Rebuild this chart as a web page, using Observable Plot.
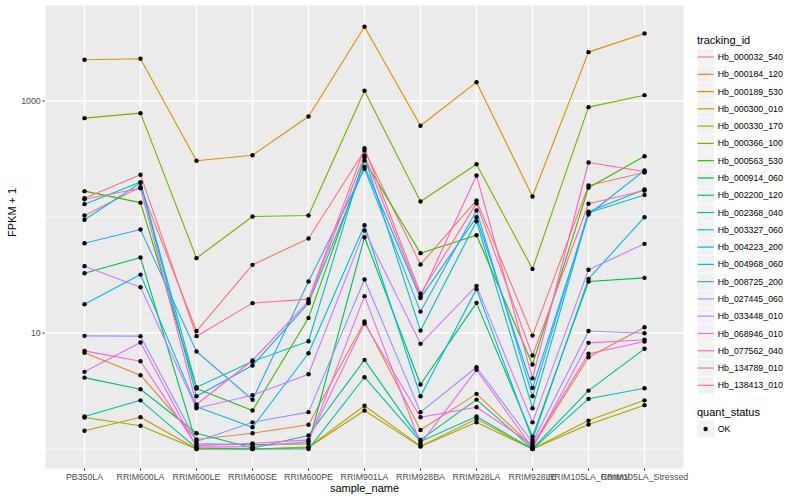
<!DOCTYPE html>
<html><head><meta charset="utf-8">
<script src="https://cdn.jsdelivr.net/npm/d3@7"></script>
<script src="https://cdn.jsdelivr.net/npm/@observablehq/plot@0.6"></script>
<style>
body{margin:0;background:#fff;font-family:"Liberation Sans",Arial,Helvetica,sans-serif;}
#wrap{position:relative;width:800px;height:500px;overflow:hidden;}
#chart{position:absolute;left:0;top:0;}
#legend{position:absolute;left:690px;top:0;}
</style></head><body><div id="wrap"><div id="chart"></div><div id="legend"></div></div>
<script>
const samples = ["PB350LA","RRIM600LA","RRIM600LE","RRIM600SE","RRIM600PE","RRIM901LA","RRIM928BA","RRIM928LA","RRIM928LE","RRIM105LA_Control","RRIM105LA_Stressed"];
const trackingIds = ["Hb_000032_540","Hb_000184_120","Hb_000189_530","Hb_000300_010","Hb_000330_170","Hb_000366_100","Hb_000563_530","Hb_000914_060","Hb_002200_120","Hb_002368_040","Hb_003327_060","Hb_004223_200","Hb_004968_060","Hb_008725_200","Hb_027445_060","Hb_033448_010","Hb_068946_010","Hb_077562_040","Hb_134789_010","Hb_138413_010"];
const colors = ["#F8766D","#EA8331","#D89000","#C09B00","#A3A500","#7CAE00","#39B600","#00BB4E","#00BF7D","#00C1A3","#00BFC4","#00BAE0","#00B0F6","#35A2FF","#9590FF","#C77CFF","#E76BF3","#FA62DB","#FF62BC","#FF6C91"];
const yTicks = [10, 1000];
const yMinor = [1, 100];

// FPKM + 1 values per tracking_id, in sample order
const hb_000032_540 = [103, 181, 10.4, 38.7, 65.3, 374, 39.0, 139, 9.5, 187, 242];
const hb_000184_120 = [6.75, 4.33, 1.21, 1.37, 1.62, 12.6, 1.46, 2.99, 1.05, 6.18, 11.2];
const hb_000189_530 = [2265, 2312, 305, 341, 735, 4362, 611, 1452, 150, 2636, 3818];
const hb_000300_010 = [1.44, 1.88, 1.0, 1.0, 1.04, 2.36, 1.06, 1.82, 1.0, 1.76, 2.63];
const hb_000330_170 = [1.87, 1.59, 1.0, 1.0, 1.03, 2.15, 1.05, 1.70, 1.0, 1.63, 2.39];
const hb_000366_100 = [711, 785, 44.2, 101, 103, 1225, 136, 285, 35.7, 885, 1122];
const hb_000563_530 = [167, 133, 3.32, 2.15, 13.5, 307, 48.7, 69.7, 5.35, 179, 334];
const hb_000914_060 = [32.8, 44.8, 1.11, 1.09, 1.11, 67, 3.60, 18.2, 1.28, 27.8, 29.9];
const hb_002200_120 = [4.13, 3.28, 1.37, 1.02, 1.31, 5.87, 1.20, 2.67, 1.01, 3.19, 7.31];
const hb_002368_040 = [1.91, 2.63, 1.02, 1.0, 1.0, 4.16, 1.16, 1.91, 1.0, 2.71, 3.34];
const hb_003327_060 = [129, 200, 3.41, 5.68, 8.5, 328, 10.5, 92, 2.25, 109, 155];
const hb_004223_200 = [17.7, 31.9, 2.32, 1.54, 6.7, 85, 2.85, 23.9, 1.20, 29.3, 99.6];
const hb_004968_060 = [94.6, 197, 2.85, 5.25, 18.1, 272, 20.0, 99.6, 3.37, 105, 252];
const hb_008725_200 = [59.4, 78.0, 6.93, 2.66, 27.8, 260, 15.3, 114, 2.85, 111, 173];
const hb_027445_060 = [9.46, 9.4, 1.16, 1.70, 2.08, 28.9, 2.08, 5.07, 1.14, 10.4, 9.96];
const hb_033448_010 = [37.7, 24.8, 2.25, 2.91, 4.41, 76.5, 8.07, 25.5, 1.70, 35.1, 58.7];
const hb_068946_010 = [4.63, 8.28, 1.04, 1.05, 1.16, 20.8, 1.11, 4.82, 1.02, 8.23, 8.74];
const hb_077562_040 = [7.02, 5.71, 1.07, 1.12, 1.20, 12.1, 1.88, 2.29, 1.09, 6.62, 8.45];
const hb_134789_010 = [142, 177, 2.42, 5.8, 18.8, 339, 20.6, 228, 4.07, 295, 247];
const hb_138413_010 = [145, 231, 9.4, 18.1, 19.6, 392, 21.8, 131, 6.4, 130, 169];

const seriesValues = [hb_000032_540, hb_000184_120, hb_000189_530, hb_000300_010, hb_000330_170, hb_000366_100, hb_000563_530, hb_000914_060, hb_002200_120, hb_002368_040, hb_003327_060, hb_004223_200, hb_004968_060, hb_008725_200, hb_027445_060, hb_033448_010, hb_068946_010, hb_077562_040, hb_134789_010, hb_138413_010];

const data = [];
trackingIds.forEach((id, i) => {
  seriesValues[i].forEach((v, j) => data.push({id, sample: samples[j], value: v, quant_status: "OK"}));
});

const font = "'Liberation Sans', Arial, Helvetica, sans-serif";
const W = 690, H = 500, ML = 45, MR = 7, MT = 5, MB = 32;

const chart = Plot.plot({
  width: W, height: H,
  marginLeft: ML, marginRight: MR, marginTop: MT, marginBottom: MB,
  style: {fontFamily: font, background: "white", overflow: "visible"},
  x: {type: "point", domain: samples, padding: 0.6, axis: null},
  y: {type: "log", domain: [0.68, 6650], axis: null},
  color: {domain: trackingIds, range: colors},
  marks: [
    Plot.frame({fill: "#EBEBEB", stroke: null}),
    Plot.gridY(yMinor, {stroke: "white", strokeOpacity: 1, strokeWidth: 0.7}),
    Plot.gridY(yTicks, {stroke: "white", strokeOpacity: 1, strokeWidth: 1.4}),
    Plot.gridX(samples, {stroke: "white", strokeOpacity: 1, strokeWidth: 1.4}),
    Plot.line(data, {x: "sample", y: "value", z: "id", stroke: "id", strokeWidth: 1.1}),
    Plot.dot(data, {x: "sample", y: "value", fill: "black", stroke: null, r: 2.2}),
    Plot.axisX({tickSize: 2.75, tickPadding: 2, fontSize: 8.8, color: "#4D4D4D", label: null}),
    Plot.axisY(yTicks, {tickSize: 2.75, tickPadding: 2, fontSize: 8.8, color: "#4D4D4D", tickFormat: d => String(d), label: null}),
    Plot.text(["sample_name"], {frameAnchor: "bottom", dy: 20, text: d => d, fontSize: 11, fill: "black", lineAnchor: "middle"}),
    Plot.text(["FPKM + 1"], {frameAnchor: "left", dx: -33, rotate: -90, text: d => d, fontSize: 11, fill: "black", lineAnchor: "middle"})
  ]
});
document.getElementById("chart").appendChild(chart);

// legend (ggplot style)
const lg = d3.select("#legend").append("svg").attr("width", 110).attr("height", 500)
  .style("font-family", font);
const key = 17.28, x0 = 7, y0 = 57 - key / 2;
lg.append("text").attr("x", x0).attr("y", 44).attr("font-size", 11).text("tracking_id");
trackingIds.forEach((id, i) => {
  const yy = y0 + i * key;
  lg.append("rect").attr("x", x0).attr("y", yy).attr("width", key).attr("height", key)
    .attr("fill", "#F2F2F2").attr("stroke", "white").attr("stroke-width", 0.6);
  lg.append("line").attr("x1", x0 + 0.5).attr("x2", x0 + key - 0.5).attr("y1", yy + key / 2).attr("y2", yy + key / 2)
    .attr("stroke", colors[i]).attr("stroke-width", 1.2);
  lg.append("text").attr("x", x0 + key + 3.5).attr("y", yy + key / 2).attr("dy", "0.35em")
    .attr("font-size", 8.8).attr("fill", "black").text(id);
});
lg.append("text").attr("x", x0).attr("y", 416).attr("font-size", 11).text("quant_status");
const qy = 429 - key / 2;
lg.append("rect").attr("x", x0).attr("y", qy).attr("width", key).attr("height", key)
  .attr("fill", "#F2F2F2").attr("stroke", "white").attr("stroke-width", 0.6);
lg.append("circle").attr("cx", x0 + key / 2).attr("cy", qy + key / 2).attr("r", 2.2).attr("fill", "black");
lg.append("text").attr("x", x0 + key + 3.5).attr("y", qy + key / 2).attr("dy", "0.35em")
  .attr("font-size", 8.8).text("OK");
</script></body></html>
